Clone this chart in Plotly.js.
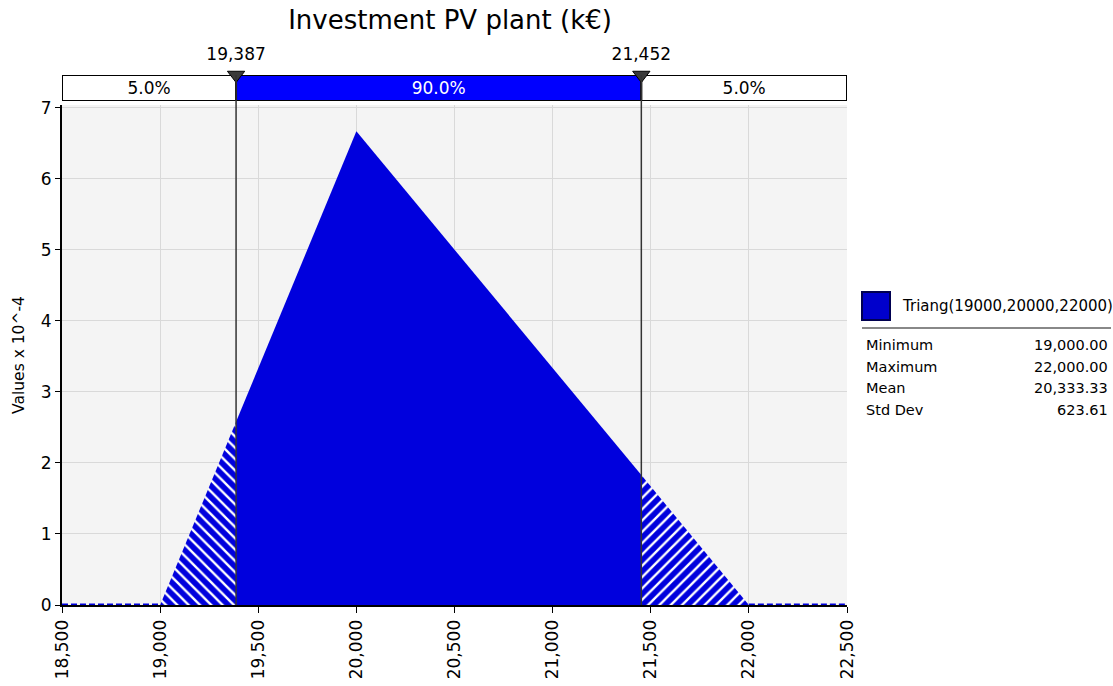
<!DOCTYPE html>
<html><head><meta charset="utf-8">
<script src="https://cdn.plot.ly/plotly-3.0.1.min.js"></script>
<style>body{margin:0;background:#fff}#chart{width:1113px;height:686px}</style>
</head><body><div id="chart"></div>
<script>
// ---- data ----
const chartTitle = 'Investment PV plant (k€)';
const yTitle = 'Values x 10^-4';
const pdfX = [18500, 19000, 19387, 20000, 21452, 22000, 22500];
const pdfY = [0, 0, 2.58, 6.67, 1.83, 0, 0];
const lowerP = 19387;
const upperP = 21452;
const bandLabels = ['5.0%', '90.0%', '5.0%'];
const xMin = 18500, xMax = 22500;
const seriesName = 'Triang(19000,20000,22000)';
const statLabels = ['Minimum', 'Maximum', 'Mean', 'Std Dev'];
const statValues = ['19,000.00', '22,000.00', '20,333.33', '623.61'];

// ---- layout helpers ----
const W = 1113, H = 686;
const L = 62, R = 847, T = 75, B = 605;
const px = x => (x - L) / (R - L);
const py = y => (B - y) / (B - T);
const FONT = 'DejaVu Sans, Verdana, sans-serif';
const BLUE = '#0000dd';

function seg(a, b) {
  const xs = [], ys = [];
  for (let i = 0; i < pdfX.length; i++) {
    if (pdfX[i] >= a && pdfX[i] <= b) { xs.push(pdfX[i]); ys.push(pdfY[i]); }
  }
  return {xs, ys};
}
const left = seg(19000, lowerP), mid = seg(lowerP, upperP), right = seg(upperP, 22000);
const base1 = seg(xMin, 19000), base2 = seg(22000, xMax);

const traces = [
  {x: left.xs, y: left.ys, type: 'scatter', mode: 'lines', fill: 'tozeroy', line: {width: 0, color: BLUE},
   fillcolor: BLUE, fillpattern: {shape: '\\', bgcolor: BLUE, fgcolor: '#ffffff', size: 8, solidity: 0.3}, hoverinfo: 'skip'},
  {x: mid.xs, y: mid.ys, type: 'scatter', mode: 'lines', fill: 'tozeroy', line: {width: 0, color: BLUE},
   fillcolor: BLUE, name: seriesName, hoverinfo: 'skip'},
  {x: right.xs, y: right.ys, type: 'scatter', mode: 'lines', fill: 'tozeroy', line: {width: 0, color: BLUE},
   fillcolor: BLUE, fillpattern: {shape: '/', bgcolor: BLUE, fgcolor: '#ffffff', size: 8, solidity: 0.3}, hoverinfo: 'skip'},
  {x: base1.xs, y: base1.ys, type: 'scatter', mode: 'lines', line: {width: 3, color: BLUE, dash: '6px,3px'}, hoverinfo: 'skip'},
  {x: base2.xs, y: base2.ys, type: 'scatter', mode: 'lines', line: {width: 3, color: BLUE, dash: '6px,3px'}, hoverinfo: 'skip'},
  // top percent bar
  {type: 'bar', orientation: 'h', xaxis: 'x', yaxis: 'y2', y: [0.5, 0.5, 0.5],
   base: [xMin, lowerP, upperP], x: [lowerP - xMin, upperP - lowerP, xMax - upperP],
   width: [1, 1, 1],
   marker: {color: ['#ffffff', '#0000ff', '#ffffff'], line: {color: '#000000', width: 2}},
   text: bandLabels, textposition: 'inside', insidetextanchor: 'middle',
   textfont: {family: FONT, size: 17, color: ['#000000', '#ffffff', '#000000']}, hoverinfo: 'skip'},
  {type: 'scatter', mode: 'markers+text', xaxis: 'x', yaxis: 'y2', x: [lowerP, upperP], y: [1, 1],
   marker: {symbol: 'triangle-down', size: 15, color: '#3a3a3a', line: {color: '#000', width: 1}},
   text: [lowerP, upperP].map(v => v.toLocaleString('en-US')), textposition: 'top center',
   textfont: {family: FONT, size: 17, color: '#000'}, cliponaxis: false, hoverinfo: 'skip'}
];

const shapes = [
  {type: 'line', xref: 'x', yref: 'paper', x0: lowerP, x1: lowerP, y0: 0, y1: 1, line: {color: '#333', width: 1.5}},
  {type: 'line', xref: 'x', yref: 'paper', x0: upperP, x1: upperP, y0: 0, y1: 1, line: {color: '#333', width: 1.5}},
  {type: 'rect', xref: 'paper', yref: 'paper', x0: px(862), x1: px(890), y0: py(320), y1: py(292),
   fillcolor: '#0000cc', line: {color: '#000050', width: 2}},
  {type: 'line', xref: 'paper', yref: 'paper', x0: px(862), x1: px(1111), y0: py(328), y1: py(328),
   line: {color: '#888', width: 2}}
];

const annotations = [
  {xref: 'paper', yref: 'paper', x: px(900), y: py(306), xanchor: 'left', yanchor: 'middle', showarrow: false,
   text: seriesName, font: {family: FONT, size: 15, color: '#000'}}
];
statLabels.forEach((lab, i) => {
  const yy = py(345 + i * 21.7);
  annotations.push({xref: 'paper', yref: 'paper', x: px(864), y: yy, xanchor: 'left', yanchor: 'middle', showarrow: false,
    text: lab, font: {family: FONT, size: 14.5, color: '#000'}});
  annotations.push({xref: 'paper', yref: 'paper', x: px(1110), y: yy, xanchor: 'right', yanchor: 'middle', showarrow: false,
    text: statValues[i], font: {family: FONT, size: 14.5, color: '#000'}});
});

const layout = {
  width: W, height: H,
  margin: {l: L, r: W - R, t: T, b: H - B},
  paper_bgcolor: '#ffffff', plot_bgcolor: '#f4f4f4',
  showlegend: false,
  font: {family: FONT, size: 16, color: '#000'},
  title: {text: chartTitle, font: {family: FONT, size: 26, color: '#000'}, x: px(450), xref: 'paper', xanchor: 'center', y: 1 - 20 / H, yanchor: 'middle'},
  xaxis: {range: [xMin, xMax], dtick: 500, tick0: 18500, tickformat: ',d', tickangle: -90,
    showgrid: true, gridcolor: '#d9d9d9', gridwidth: 1, zeroline: false,
    showline: true, linecolor: '#000', linewidth: 2, ticks: 'outside', ticklen: 6, tickcolor: '#000',
    tickfont: {family: FONT, size: 17}, anchor: 'y'},
  yaxis: {domain: [0, py(105)], range: [0, 7.04], dtick: 1, tick0: 0,
    showgrid: true, gridcolor: '#d9d9d9', gridwidth: 1, zeroline: false,
    showline: true, linecolor: '#000', linewidth: 2, ticks: 'outside', ticklen: 5, tickcolor: '#000',
    tickfont: {family: FONT, size: 17},
    title: {text: yTitle, font: {family: FONT, size: 15.5}, standoff: 12}},
  yaxis2: {domain: [py(101), 1], range: [0, 1], showticklabels: false, showgrid: false, zeroline: false,
    showline: false, ticks: '', fixedrange: true, anchor: 'x'},
  bargap: 0,
  shapes: shapes,
  annotations: annotations
};
shapes[0].y1 = py(T); shapes[1].y1 = py(T);
Plotly.newPlot('chart', traces, layout, {displayModeBar: false, staticPlot: true});
</script></body></html>
